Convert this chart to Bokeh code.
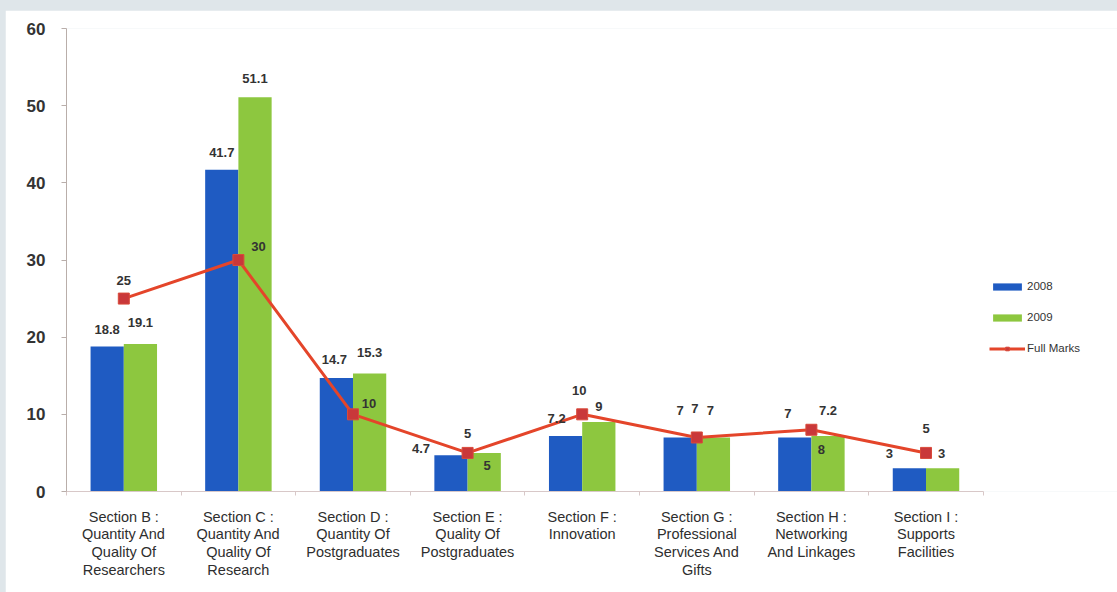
from bokeh.plotting import figure
from bokeh.models import ColumnDataSource, FixedTicker, Range1d
from bokeh.transform import dodge
from bokeh.layouts import column
from bokeh.core.properties import value
from bokeh.embed import file_html
from bokeh.resources import INLINE

categories = [
    "Section B :\nQuantity And\nQuality Of\nResearchers",
    "Section C :\nQuantity And\nQuality Of\nResearch",
    "Section D :\nQuantity Of\nPostgraduates",
    "Section E :\nQuality Of\nPostgraduates",
    "Section F :\nInnovation",
    "Section G :\nProfessional\nServices And\nGifts",
    "Section H :\nNetworking\nAnd Linkages",
    "Section I :\nSupports\nFacilities",
]
v2008 = [18.8, 41.7, 14.7, 4.7, 7.2, 7, 7, 3]
v2009 = [19.1, 51.1, 15.3, 5, 9, 7, 7.2, 3]
full_marks = [25, 30, 10, 5, 10, 7, 8, 5]
lbl2008 = ["18.8", "41.7", "14.7", "4.7", "7.2", "7", "7", "3"]
lbl2009 = ["19.1", "51.1", "15.3", "5", "9", "7", "7.2", "3"]
lblfull = ["25", "30", "10", "5", "10", "7", "8", "5"]
y_ticks = [0, 10, 20, 30, 40, 50, 60]

# label placement (pixel offsets) - styling only
off2008_x = [0, 0, -2, -30, -9, 0, -7, -20]
off2008_y = [-17, -17, -19, -7, -17, -27, -24, -15]
off2009_x = [0, 0, 0, 3, 0, -3, 0, -1]
off2009_y = [-22, -19, -21, 13, -16, -27, -25, -15]
offfull_x = [0, 20, 16, 0, -3, -2, 10, 0]
offfull_y = [-18, -14, -11, -19, -24, -29, 20, -24]

idx = list(range(len(categories)))
n = len(categories)
src = ColumnDataSource(dict(
    x=idx, v2008=v2008, v2009=v2009, full=full_marks,
    l2008=lbl2008, l2009=lbl2009, lfull=lblfull,
    ox8=off2008_x, oy8=off2008_y, ox9=off2009_x, oy9=off2009_y,
    oxf=offfull_x, oyf=offfull_y,
))

# frame spans to the right edge so the legend can sit beside the axis span
p = figure(width=1112, height=582, output_backend="svg", toolbar_location=None,
           x_range=Range1d(-0.5, -0.5 + 1051 / 114.6), y_range=Range1d(0, 60),
           min_border_left=61, min_border_right=0, min_border_top=18, min_border_bottom=101,
           margin=(10, 0, 0, 5))
p.outline_line_color = None
p.background_fill_color = "white"
p.border_fill_color = "white"
p.xgrid.visible = False
p.ygrid.visible = False

blue = "#1f5bc2"
green = "#8dc73f"
red = "#e4452a"

p.vbar(x=dodge("x", -0.145, range=p.x_range), top="v2008", width=0.29, bottom=0,
       source=src, fill_color=blue, line_color=None, legend_label="2008")
p.vbar(x=dodge("x", 0.145, range=p.x_range), top="v2009", width=0.29, bottom=0,
       source=src, fill_color=green, line_color=None, legend_label="2009")
p.line(x="x", y="full", source=src, line_color=red, line_width=3, legend_label="Full Marks")
p.scatter(x="x", y="full", source=src, marker="square", size=11, fill_color="#c9383a",
          line_color="#d94a3a", legend_label="Full Marks")

lab_font = value("Liberation Sans")
common = dict(text_font=lab_font, text_font_size="13px", text_font_style="bold",
              text_color="#333333", text_align="center", text_baseline="middle")
p.text(x=dodge("x", -0.145, range=p.x_range), y="v2008", text="l2008", x_offset="ox8",
       y_offset="oy8", source=src, **common)
p.text(x=dodge("x", 0.145, range=p.x_range), y="v2009", text="l2009", x_offset="ox9",
       y_offset="oy9", source=src, **common)
p.text(x="x", y="full", text="lfull", x_offset="oxf", y_offset="oyf", source=src, **common)

# axes
p.yaxis.ticker = FixedTicker(ticks=y_ticks)
p.yaxis.axis_line_color = "#b9aeaa"
p.yaxis.major_tick_line_color = "#b9aeaa"
p.yaxis.major_tick_out = 5
p.yaxis.major_tick_in = 0
p.yaxis.minor_tick_line_color = None
p.yaxis.major_label_text_font = "Liberation Sans"
p.yaxis.major_label_text_font_size = "17px"
p.yaxis.major_label_text_font_style = "bold"
p.yaxis.major_label_text_color = "#333333"
p.yaxis.major_label_standoff = 16

p.xaxis.bounds = (-0.5, n - 0.5)
p.xaxis.ticker = FixedTicker(ticks=idx, minor_ticks=[i - 0.5 for i in range(n + 1)])
p.xaxis.major_label_overrides = {i: c for i, c in enumerate(categories)}
p.xaxis.axis_line_color = "#d8c8c8"
p.xaxis.major_tick_line_color = None
p.xaxis.minor_tick_line_color = "#d8c8c8"
p.xaxis.minor_tick_out = 4
p.xaxis.minor_tick_in = 0
p.xaxis.major_label_text_font = "Liberation Sans"
p.xaxis.major_label_text_font_size = "14.5px"
p.xaxis.major_label_text_line_height = 1.12
p.xaxis.major_label_text_color = "#2e2e2e"
p.xaxis.major_label_standoff = 11

lg = p.legend[0]
lg.location = (923, 137)
lg.border_line_color = None
lg.background_fill_alpha = 0
lg.padding = 0
lg.margin = 0
lg.glyph_width = 36
lg.glyph_height = 9
lg.label_height = 12
lg.spacing = 19
lg.label_standoff = 2
lg.label_text_font = "Liberation Sans"
lg.label_text_font_size = "11.5px"
lg.label_text_color = "#333333"

layout = column(p, styles={"background-color": "#dfe6ea"})
open("out.html", "w").write(file_html(layout, INLINE))
